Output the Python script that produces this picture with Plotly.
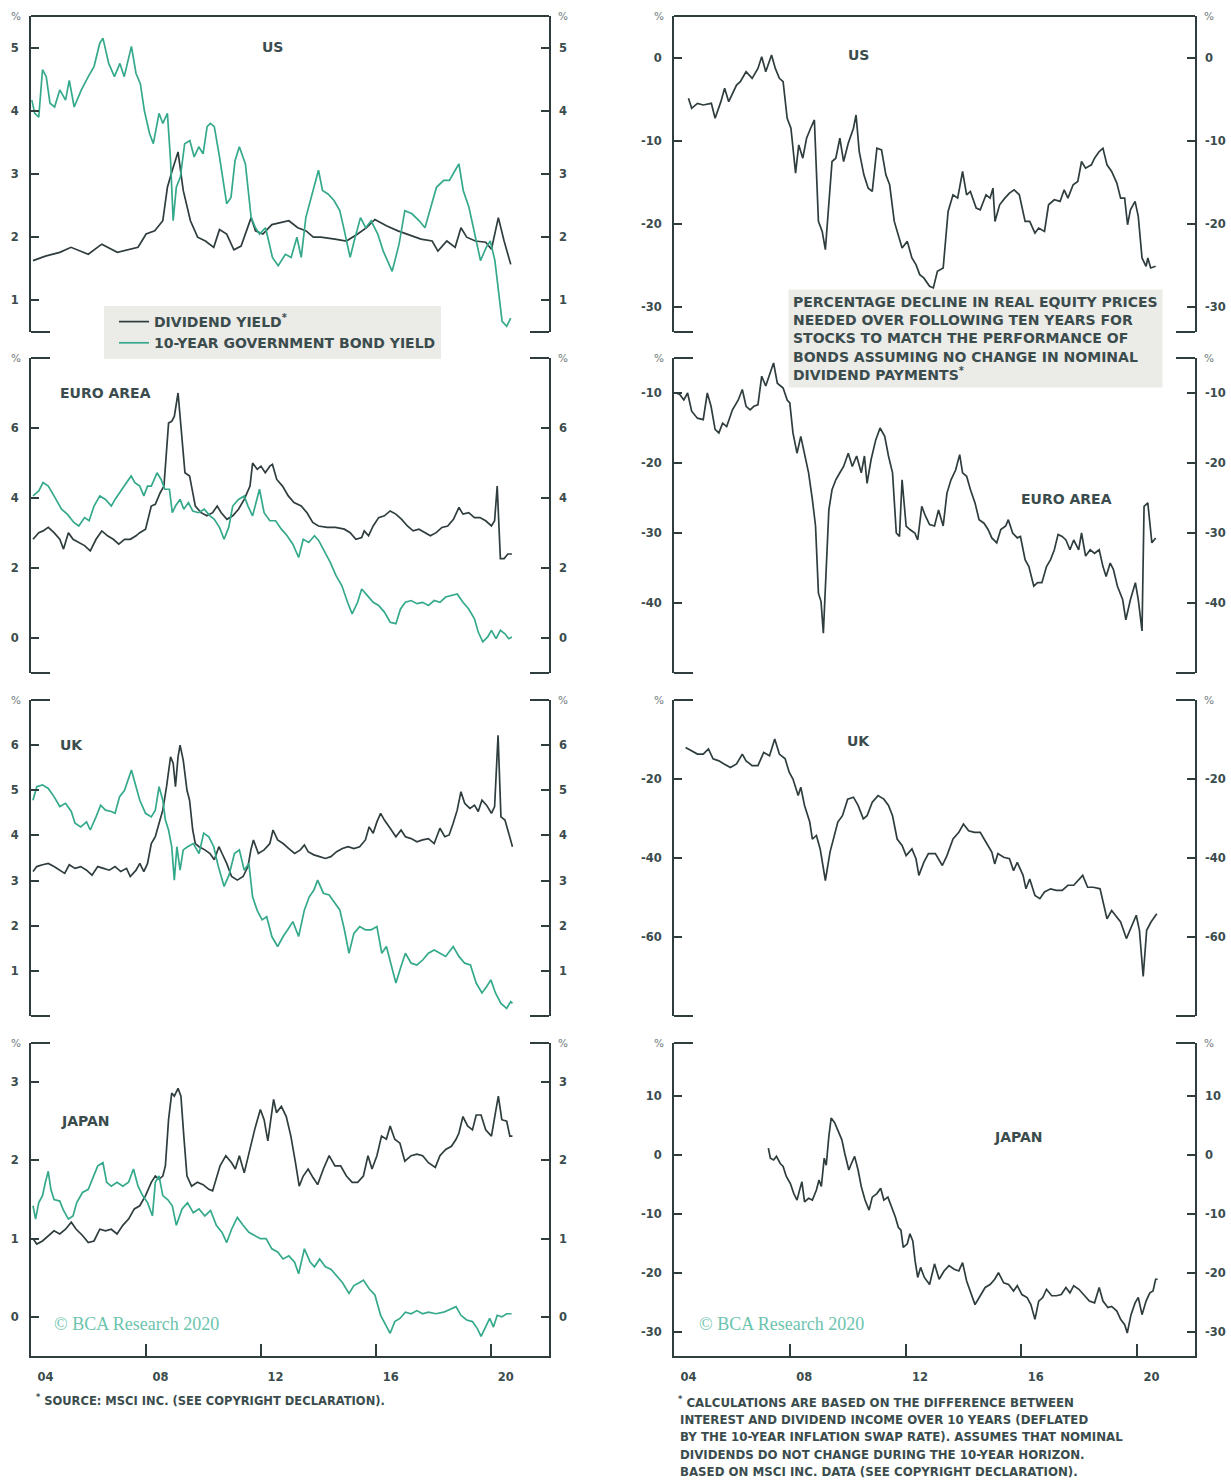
import plotly.graph_objects as go

W, H = 1231, 1480
DARK = "#2f3d3e"
TEAL = "#35a98b"
TXT = "#3b4c4d"
BOX = "#ebebe8"
FONT = "DejaVu Sans"

# ---------------- data (decimal year, value) ----------------
US_DIV = [(2004.07,1.63),(2004.5,1.70),(2005.0,1.76),(2005.39,1.84),(2005.99,1.73),(2006.46,1.89),(2007.0,1.76),
          (2007.49,1.81),(2007.72,1.84),(2008.0,2.05),(2008.3,2.10),(2008.58,2.26),(2008.74,2.79),(2008.91,3.06),
          (2009.11,3.35),(2009.29,2.74),(2009.54,2.26),(2009.79,2.0),(2010.06,1.94),(2010.35,1.84),(2010.55,2.12),
          (2010.8,2.05),(2011.05,1.80),(2011.3,1.86),(2011.65,2.31),(2011.8,2.10),(2012.06,2.05),(2012.37,2.2),
          (2012.67,2.23),(2012.96,2.26),(2013.27,2.15),(2013.56,2.10),(2013.81,2.0),(2014.07,2.0),(2014.56,1.97),
          (2014.96,1.94),(2015.35,2.05),(2015.66,2.15),(2015.95,2.28),(2016.35,2.18),(2016.75,2.1),(2017.04,2.05),
          (2017.55,1.97),(2017.94,1.94),(2018.14,1.78),(2018.45,1.94),(2018.74,1.84),(2018.94,2.15),(2019.14,2.0),
          (2019.44,1.94),(2019.8,1.92),(2020.0,1.81),(2020.24,2.31),(2020.44,1.94),(2020.67,1.57)]
US_BOND = [(2004.03,4.17),(2004.13,3.96),(2004.27,3.9),(2004.4,4.65),(2004.53,4.54),(2004.66,4.12),(2004.82,4.06),
           (2005.0,4.33),(2005.2,4.17),(2005.33,4.48),(2005.5,4.06),(2005.75,4.33),(2005.99,4.54),(2006.19,4.70),
           (2006.39,5.07),(2006.5,5.15),(2006.7,4.75),(2006.9,4.54),(2007.09,4.75),(2007.24,4.54),(2007.39,4.83),
           (2007.49,5.02),(2007.65,4.59),(2007.8,4.43),(2007.94,4.0),(2008.12,3.64),(2008.25,3.48),(2008.45,3.96),
           (2008.58,3.8),(2008.74,3.96),(2008.85,3.21),(2008.94,2.26),(2009.05,2.79),(2009.19,2.95),(2009.34,3.48),
           (2009.52,3.53),(2009.67,3.27),(2009.83,3.43),(2009.98,3.32),(2010.12,3.75),(2010.23,3.8),(2010.37,3.75),
           (2010.55,3.27),(2010.8,2.53),(2010.95,2.63),(2011.09,3.21),(2011.24,3.43),(2011.45,3.16),(2011.65,2.31),
           (2011.8,2.15),(2011.94,2.05),(2012.15,2.15),(2012.39,1.68),(2012.59,1.55),(2012.84,1.73),(2013.04,1.68),
           (2013.24,2.0),(2013.39,1.68),(2013.55,2.31),(2013.76,2.68),(2013.99,3.06),(2014.13,2.74),(2014.33,2.68),
           (2014.53,2.58),(2014.73,2.42),(2014.89,2.10),(2015.09,1.68),(2015.23,1.94),(2015.45,2.31),(2015.63,2.15),
           (2015.82,2.26),(2016.05,2.05),(2016.24,1.78),(2016.55,1.46),(2016.79,1.89),(2016.99,2.42),(2017.24,2.37),
           (2017.49,2.26),(2017.69,2.15),(2017.89,2.47),(2018.09,2.79),(2018.34,2.90),(2018.54,2.90),(2018.74,3.06),
           (2018.87,3.16),(2019.02,2.74),(2019.22,2.47),(2019.42,2.05),(2019.62,1.63),(2019.82,1.84),(2019.96,1.94),
           (2020.12,1.63),(2020.27,0.99),(2020.37,0.67),(2020.53,0.59),(2020.67,0.72)]
US_GAP = [(2004.5,-4.9),(2004.61,-6.1),(2004.81,-5.5),(2005.01,-5.7),(2005.29,-5.5),(2005.42,-7.3),(2005.62,-5.3),
          (2005.75,-3.7),(2005.89,-5.3),(2006.16,-3.3),(2006.29,-2.9),(2006.49,-1.7),(2006.7,-2.5),(2006.9,-1.3),
          (2007.03,0.1),(2007.17,-1.7),(2007.37,0.3),(2007.5,-1.3),(2007.64,-2.5),(2007.77,-2.9),(2007.91,-7.3),
          (2008.04,-8.5),(2008.2,-13.9),(2008.31,-10.5),(2008.45,-12.1),(2008.58,-9.7),(2008.72,-8.5),(2008.85,-7.5),
          (2008.99,-19.7),(2009.12,-20.9),(2009.23,-23.1),(2009.39,-14.9),(2009.46,-12.5),(2009.59,-12.1),
          (2009.73,-9.7),(2009.86,-12.5),(2010.02,-10.3),(2010.2,-8.5),(2010.29,-6.9),(2010.4,-11.3),(2010.56,-14.1),
          (2010.71,-15.7),(2010.85,-16.1),(2011.01,-10.9),(2011.17,-11.1),(2011.32,-14.1),(2011.45,-15.3),
          (2011.61,-19.7),(2011.75,-21.3),(2011.88,-22.9),(2012.06,-22.1),(2012.22,-24.1),(2012.36,-24.9),
          (2012.49,-26.1),(2012.63,-26.5),(2012.83,-27.5),(2012.96,-27.7),(2013.1,-25.7),(2013.3,-25.3),
          (2013.47,-18.5),(2013.64,-16.5),(2013.8,-16.9),(2013.97,-13.7),(2014.11,-16.5),(2014.24,-16.1),
          (2014.44,-18.1),(2014.58,-18.3),(2014.78,-16.5),(2014.92,-16.9),(2015.02,-15.7),(2015.09,-19.7),
          (2015.25,-17.7),(2015.43,-16.9),(2015.59,-16.3),(2015.75,-15.9),(2015.93,-16.5),(2016.13,-19.7),
          (2016.29,-19.7),(2016.47,-21.1),(2016.6,-20.5),(2016.8,-20.9),(2016.94,-17.7),(2017.14,-17.1),
          (2017.34,-17.3),(2017.48,-15.9),(2017.61,-16.9),(2017.79,-15.3),(2017.95,-14.9),(2018.08,-12.5),
          (2018.22,-13.3),(2018.42,-12.9),(2018.53,-12.1),(2018.69,-11.3),(2018.82,-10.9),(2018.96,-12.9),
          (2019.12,-13.7),(2019.3,-15.1),(2019.43,-16.9),(2019.57,-16.9),(2019.67,-20.1),(2019.77,-18.3),
          (2019.93,-17.3),(2020.04,-19.1),(2020.17,-24.1),(2020.31,-25.1),(2020.37,-24.1),(2020.47,-25.3),
          (2020.64,-25.1)]

EURO_DIV = [(2004.07,2.82),(2004.27,3.01),(2004.42,3.06),(2004.6,3.16),(2004.8,3.01),(2005.0,2.82),(2005.13,2.54),
            (2005.3,3.01),(2005.46,2.82),(2005.66,2.73),(2005.86,2.64),(2006.06,2.49),(2006.26,2.82),(2006.46,3.06),
            (2006.66,2.92),(2006.86,2.82),(2007.05,2.68),(2007.25,2.82),(2007.45,2.82),(2007.65,2.92),(2007.78,3.01),
            (2007.98,3.11),(2008.18,3.77),(2008.32,3.82),(2008.49,4.15),(2008.62,4.34),(2008.78,6.14),(2008.89,6.19),
            (2008.98,6.33),(2009.11,7.0),(2009.21,6.05),(2009.35,4.72),(2009.51,4.63),(2009.71,3.77),(2009.91,3.58),
            (2010.11,3.49),(2010.31,3.58),(2010.47,3.77),(2010.61,3.58),(2010.81,3.39),(2011.01,3.49),(2011.21,3.68),
            (2011.41,3.96),(2011.61,4.34),(2011.7,5.0),(2011.86,4.82),(2011.99,4.91),(2012.14,4.72),(2012.3,4.91),
            (2012.39,4.96),(2012.54,4.53),(2012.74,4.34),(2012.94,4.06),(2013.14,3.87),(2013.39,3.77),(2013.59,3.58),
            (2013.79,3.30),(2013.99,3.20),(2014.29,3.16),(2014.58,3.16),(2014.89,3.11),(2015.09,3.01),(2015.29,2.82),
            (2015.49,2.87),(2015.58,3.06),(2015.73,2.92),(2015.89,3.20),(2016.08,3.44),(2016.28,3.49),(2016.48,3.63),
            (2016.68,3.54),(2016.88,3.39),(2017.08,3.20),(2017.28,3.06),(2017.48,3.11),(2017.68,3.01),(2017.88,2.92),
            (2018.08,3.01),(2018.28,3.16),(2018.48,3.20),(2018.68,3.39),(2018.87,3.73),(2019.01,3.54),(2019.21,3.58),
            (2019.41,3.44),(2019.6,3.44),(2019.8,3.35),(2020.0,3.20),(2020.11,3.35),(2020.2,4.34),(2020.31,2.27),
            (2020.44,2.27),(2020.57,2.40),(2020.71,2.40)]
EURO_BOND = [(2004.07,4.06),(2004.27,4.2),(2004.42,4.44),(2004.6,4.34),(2004.8,4.06),(2005.06,3.68),(2005.26,3.54),
             (2005.49,3.30),(2005.66,3.20),(2005.86,3.44),(2006.02,3.35),(2006.19,3.77),(2006.39,4.06),(2006.59,3.96),
             (2006.79,3.77),(2006.92,3.96),(2007.12,4.2),(2007.32,4.44),(2007.48,4.63),(2007.61,4.44),(2007.78,4.34),
             (2007.92,4.06),(2008.05,4.34),(2008.18,4.34),(2008.38,4.72),(2008.52,4.53),(2008.65,4.25),(2008.81,4.25),
             (2008.91,3.58),(2009.02,3.77),(2009.18,3.96),(2009.31,3.68),(2009.47,3.87),(2009.62,3.63),(2009.82,3.58),
             (2010.02,3.68),(2010.22,3.49),(2010.37,3.39),(2010.55,3.16),(2010.71,2.82),(2010.87,3.16),(2011.01,3.77),
             (2011.21,3.96),(2011.41,4.06),(2011.54,3.77),(2011.7,3.49),(2011.86,3.96),(2011.94,4.25),(2012.1,3.58),
             (2012.3,3.35),(2012.5,3.35),(2012.7,3.11),(2012.9,2.92),(2013.1,2.68),(2013.3,2.30),(2013.46,2.82),
             (2013.65,2.73),(2013.85,2.92),(2014.0,2.78),(2014.2,2.45),(2014.4,2.16),(2014.6,1.78),(2014.8,1.50),
             (2015.0,1.02),(2015.16,0.69),(2015.35,1.02),(2015.49,1.40),(2015.69,1.21),(2015.89,1.02),(2016.08,0.93),
             (2016.28,0.74),(2016.48,0.45),(2016.68,0.41),(2016.84,0.83),(2017.01,1.02),(2017.21,1.07),(2017.41,0.98),
             (2017.61,1.02),(2017.81,0.93),(2018.01,1.07),(2018.21,1.02),(2018.41,1.17),(2018.61,1.21),(2018.81,1.26),
             (2019.01,1.02),(2019.21,0.83),(2019.41,0.55),(2019.54,0.17),(2019.7,-0.11),(2019.87,0.03),(2020.0,0.22),
             (2020.16,-0.02),(2020.31,0.22),(2020.47,0.12),(2020.6,-0.02),(2020.71,0.03)]
EURO_GAP = [(2004.07,-10),(2004.2,-10.2),(2004.34,-11),(2004.47,-10),(2004.61,-12.6),(2004.81,-13.6),(2005.01,-13.8),
            (2005.15,-10),(2005.28,-11.9),(2005.42,-15.2),(2005.55,-15.7),(2005.68,-14.3),(2005.82,-14.8),
            (2006.02,-12.4),(2006.22,-11),(2006.36,-9.5),(2006.49,-11.9),(2006.63,-12.4),(2006.76,-11.9),
            (2006.9,-11.7),(2007.03,-7.6),(2007.17,-9),(2007.3,-7.4),(2007.44,-5.7),(2007.57,-8.6),(2007.77,-9.3),
            (2007.91,-11),(2008.0,-11.4),(2008.11,-15.7),(2008.25,-18.6),(2008.38,-16.2),(2008.51,-18.6),
            (2008.65,-21.4),(2008.78,-25.2),(2008.89,-29),(2008.99,-38.6),(2009.08,-39.8),(2009.16,-44.3),
            (2009.26,-35.7),(2009.35,-26.7),(2009.46,-23.8),(2009.59,-22.4),(2009.73,-21.4),(2009.86,-20.5),
            (2010.02,-18.6),(2010.16,-20.5),(2010.31,-19),(2010.47,-21.4),(2010.58,-19),(2010.67,-22.9),
            (2010.81,-19.5),(2010.97,-16.7),(2011.12,-15),(2011.28,-16.2),(2011.41,-19),(2011.55,-21.4),
            (2011.68,-30),(2011.79,-30.5),(2011.88,-22.4),(2012.02,-29),(2012.15,-29.5),(2012.32,-30),(2012.42,-31),
            (2012.56,-26.2),(2012.69,-27.6),(2012.83,-28.8),(2013.0,-29),(2013.14,-26.7),(2013.3,-29),(2013.43,-24.3),
            (2013.57,-22.4),(2013.73,-21),(2013.87,-18.8),(2013.97,-21.4),(2014.11,-21.9),(2014.24,-23.8),
            (2014.4,-25.7),(2014.54,-28.1),(2014.71,-28.6),(2014.85,-29.5),(2014.98,-30.7),(2015.15,-31.4),
            (2015.29,-29.5),(2015.46,-29),(2015.55,-28.1),(2015.7,-30),(2015.86,-30.7),(2015.97,-30.5),
            (2016.13,-33.8),(2016.26,-34.8),(2016.43,-37.6),(2016.56,-37.1),(2016.71,-37.1),(2016.87,-34.8),
            (2017.01,-33.8),(2017.14,-32.4),(2017.27,-30.2),(2017.41,-30.5),(2017.54,-31),(2017.68,-32.4),
            (2017.81,-31),(2017.98,-32.4),(2018.08,-30),(2018.22,-33.3),(2018.38,-32.4),(2018.53,-32.9),
            (2018.69,-32.4),(2018.82,-34.8),(2018.93,-36.2),(2019.07,-34.3),(2019.18,-35.2),(2019.32,-37.6),
            (2019.5,-39.5),(2019.61,-42.4),(2019.77,-39.5),(2019.94,-37.1),(2020.04,-39.5),(2020.17,-44),
            (2020.24,-26.2),(2020.37,-25.7),(2020.51,-31.4),(2020.64,-30.7)]

UK_DIV = [(2004.07,3.20),(2004.2,3.31),(2004.4,3.35),(2004.6,3.38),(2004.8,3.31),(2005.0,3.23),(2005.17,3.16),
          (2005.33,3.35),(2005.53,3.27),(2005.73,3.31),(2005.93,3.23),(2006.12,3.12),(2006.32,3.31),(2006.52,3.27),
          (2006.72,3.23),(2006.92,3.31),(2007.12,3.20),(2007.32,3.27),(2007.45,3.09),(2007.65,3.23),(2007.78,3.38),
          (2007.92,3.20),(2008.05,3.38),(2008.18,3.82),(2008.32,3.97),(2008.45,4.27),(2008.58,4.56),(2008.71,5.08),
          (2008.85,5.74),(2008.94,5.6),(2009.02,5.08),(2009.11,5.74),(2009.18,6.0),(2009.29,5.67),(2009.42,5.0),
          (2009.51,4.78),(2009.62,4.12),(2009.71,3.82),(2009.84,3.75),(2010.04,3.68),(2010.22,3.60),(2010.37,3.46),
          (2010.53,3.75),(2010.64,3.60),(2010.8,3.38),(2010.97,3.09),(2011.17,3.01),(2011.37,3.09),(2011.54,3.31),
          (2011.64,3.68),(2011.73,3.90),(2011.9,3.60),(2012.1,3.68),(2012.3,3.82),(2012.41,4.12),(2012.57,3.90),
          (2012.76,3.82),(2012.96,3.71),(2013.16,3.60),(2013.36,3.68),(2013.5,3.79),(2013.63,3.64),(2013.83,3.57),
          (2014.03,3.53),(2014.23,3.49),(2014.42,3.53),(2014.62,3.64),(2014.82,3.71),(2015.02,3.75),(2015.22,3.71),
          (2015.42,3.75),(2015.62,3.90),(2015.75,4.19),(2015.89,4.05),(2016.02,4.30),(2016.15,4.49),(2016.28,4.34),
          (2016.48,4.16),(2016.68,3.97),(2016.86,4.12),(2017.01,3.97),(2017.21,3.93),(2017.41,3.86),(2017.61,3.90),
          (2017.81,3.93),(2018.01,3.82),(2018.21,4.16),(2018.38,3.97),(2018.53,4.01),(2018.67,4.27),(2018.81,4.56),
          (2018.94,4.97),(2019.07,4.71),(2019.25,4.60),(2019.41,4.67),(2019.54,4.53),(2019.67,4.78),(2019.83,4.67),
          (2020.0,4.49),(2020.11,4.64),(2020.23,6.22),(2020.33,4.41),(2020.47,4.34),(2020.6,4.05),(2020.73,3.75)]
UK_BOND = [(2004.07,4.78),(2004.2,5.08),(2004.4,5.12),(2004.6,5.04),(2004.8,4.86),(2005.0,4.64),(2005.2,4.71),
           (2005.4,4.53),(2005.53,4.27),(2005.73,4.19),(2005.93,4.30),(2006.06,4.12),(2006.26,4.41),(2006.42,4.67),
           (2006.59,4.56),(2006.79,4.53),(2006.92,4.49),(2007.08,4.86),(2007.25,5.0),(2007.39,5.26),(2007.49,5.45),
           (2007.65,5.08),(2007.78,4.78),(2007.98,4.49),(2008.18,4.41),(2008.32,4.56),(2008.45,5.08),(2008.58,4.78),
           (2008.67,4.34),(2008.78,4.12),(2008.89,3.75),(2008.98,3.01),(2009.07,3.75),(2009.18,3.23),(2009.29,3.68),
           (2009.44,3.75),(2009.64,3.82),(2009.84,3.60),(2010.0,4.05),(2010.18,3.97),(2010.35,3.75),(2010.51,3.31),
           (2010.71,2.87),(2010.88,3.12),(2011.07,3.60),(2011.24,3.68),(2011.41,3.23),(2011.57,3.38),(2011.7,2.64),
           (2011.86,2.34),(2012.03,2.13),(2012.19,2.20),(2012.37,1.76),(2012.57,1.54),(2012.76,1.76),(2012.92,1.91),
           (2013.1,2.09),(2013.3,1.76),(2013.5,2.35),(2013.67,2.64),(2013.83,2.79),(2013.96,3.01),(2014.16,2.72),
           (2014.36,2.68),(2014.56,2.50),(2014.73,2.35),(2014.89,1.91),(2015.05,1.39),(2015.22,1.83),(2015.42,1.98),
           (2015.62,1.91),(2015.82,1.91),(2016.02,1.98),(2016.19,1.39),(2016.35,1.54),(2016.55,1.02),(2016.68,0.73),
           (2016.86,1.10),(2017.01,1.39),(2017.21,1.17),(2017.41,1.13),(2017.61,1.24),(2017.81,1.39),(2018.01,1.46),
           (2018.21,1.39),(2018.41,1.32),(2018.67,1.54),(2018.87,1.32),(2019.07,1.17),(2019.27,1.13),(2019.47,0.73),
           (2019.67,0.51),(2019.83,0.65),(2019.98,0.80),(2020.14,0.51),(2020.33,0.28),(2020.53,0.17),(2020.67,0.32),
           (2020.73,0.28)]
UK_GAP = [(2004.4,-12.0),(2004.61,-12.8),(2004.81,-13.7),(2005.01,-13.7),(2005.19,-12.4),(2005.35,-14.9),
          (2005.55,-15.4),(2005.73,-16.2),(2005.95,-17.1),(2006.16,-16.2),(2006.36,-13.7),(2006.49,-15.4),
          (2006.7,-16.6),(2006.9,-16.6),(2007.1,-13.3),(2007.3,-14.1),(2007.48,-9.9),(2007.64,-13.7),(2007.84,-14.9),
          (2007.98,-18.3),(2008.11,-20.0),(2008.29,-24.2),(2008.38,-22.1),(2008.51,-26.7),(2008.69,-30.9),
          (2008.78,-35.2),(2008.92,-34.3),(2009.05,-37.7),(2009.23,-45.7),(2009.39,-38.5),(2009.53,-34.3),
          (2009.66,-30.9),(2009.82,-29.3),(2010.0,-25.1),(2010.2,-24.6),(2010.36,-26.7),(2010.54,-30.1),
          (2010.67,-29.3),(2010.85,-25.9),(2011.05,-24.2),(2011.25,-25.1),(2011.41,-26.7),(2011.55,-29.3),
          (2011.71,-35.2),(2011.88,-36.8),(2012.02,-39.4),(2012.22,-37.7),(2012.36,-40.2),(2012.46,-44.4),
          (2012.63,-41.1),(2012.79,-38.9),(2013.03,-38.9),(2013.27,-41.9),(2013.43,-39.4),(2013.64,-35.2),
          (2013.84,-33.5),(2014.0,-31.4),(2014.18,-33.1),(2014.38,-33.5),(2014.58,-33.5),(2014.78,-36.0),
          (2014.98,-38.5),(2015.08,-41.5),(2015.19,-38.9),(2015.39,-39.8),(2015.59,-40.2),(2015.73,-43.2),
          (2015.86,-41.1),(2016.06,-44.4),(2016.16,-47.8),(2016.29,-45.3),(2016.47,-49.5),(2016.64,-50.3),
          (2016.8,-48.6),(2017.01,-47.8),(2017.21,-48.2),(2017.41,-48.2),(2017.61,-46.9),(2017.81,-46.9),
          (2018.02,-45.3),(2018.12,-44.4),(2018.29,-47.4),(2018.49,-47.4),(2018.72,-47.8),(2018.82,-51.2),
          (2018.96,-55.4),(2019.12,-53.3),(2019.26,-54.5),(2019.43,-56.2),(2019.63,-60.4),(2019.81,-57.1),
          (2019.97,-54.5),(2020.08,-58.3),(2020.21,-70.0),(2020.33,-58.3),(2020.48,-56.2),(2020.68,-54.1)]

JAPAN_DIV = [(2004.07,1.0),(2004.2,0.93),(2004.4,0.97),(2004.6,1.04),(2004.8,1.10),(2005.0,1.06),(2005.2,1.12),
             (2005.4,1.21),(2005.57,1.12),(2005.79,1.04),(2005.99,0.95),(2006.19,0.97),(2006.39,1.12),(2006.59,1.10),
             (2006.79,1.12),(2006.99,1.06),(2007.19,1.17),(2007.39,1.25),(2007.59,1.38),(2007.78,1.42),(2007.98,1.55),
             (2008.18,1.72),(2008.32,1.80),(2008.45,1.76),(2008.58,1.80),(2008.67,1.93),(2008.78,2.52),(2008.89,2.86),
             (2008.98,2.82),(2009.11,2.92),(2009.21,2.82),(2009.31,2.31),(2009.42,1.80),(2009.58,1.67),(2009.78,1.72),
             (2009.98,1.69),(2010.18,1.63),(2010.31,1.61),(2010.44,1.76),(2010.57,1.93),(2010.77,2.06),(2010.97,1.97),
             (2011.1,1.89),(2011.24,2.06),(2011.41,1.84),(2011.57,2.10),(2011.77,2.39),(2011.97,2.65),(2012.1,2.52),
             (2012.23,2.25),(2012.34,2.56),(2012.43,2.78),(2012.53,2.61),(2012.7,2.69),(2012.87,2.56),(2013.03,2.31),
             (2013.19,1.97),(2013.32,1.67),(2013.46,1.80),(2013.63,1.89),(2013.8,1.78),(2013.96,1.69),(2014.16,1.89),
             (2014.36,2.06),(2014.56,1.93),(2014.76,1.93),(2014.96,1.80),(2015.16,1.72),(2015.35,1.72),(2015.55,1.80),
             (2015.71,2.06),(2015.85,1.89),(2016.02,2.06),(2016.18,2.31),(2016.35,2.27),(2016.48,2.44),(2016.64,2.27),
             (2016.82,2.22),(2016.99,1.99),(2017.21,2.06),(2017.41,2.08),(2017.61,2.06),(2017.81,1.97),(2018.05,1.91),
             (2018.21,2.06),(2018.41,2.14),(2018.61,2.18),(2018.77,2.27),(2018.87,2.35),(2019.01,2.56),(2019.17,2.44),
             (2019.34,2.39),(2019.47,2.58),(2019.64,2.58),(2019.8,2.39),(2020.0,2.31),(2020.14,2.61),(2020.24,2.82),
             (2020.36,2.52),(2020.53,2.50),(2020.64,2.31),(2020.73,2.31)]
JAPAN_BOND = [(2004.07,1.42),(2004.16,1.25),(2004.27,1.46),(2004.4,1.55),(2004.5,1.72),(2004.6,1.86),(2004.69,1.63),
              (2004.8,1.50),(2005.0,1.48),(2005.13,1.36),(2005.3,1.25),(2005.46,1.29),(2005.59,1.46),(2005.79,1.59),
              (2005.99,1.63),(2006.19,1.80),(2006.32,1.93),(2006.5,1.97),(2006.63,1.72),(2006.79,1.67),(2006.99,1.72),
              (2007.19,1.67),(2007.39,1.72),(2007.56,1.89),(2007.72,1.67),(2007.88,1.55),(2008.05,1.46),(2008.22,1.29),
              (2008.32,1.72),(2008.45,1.80),(2008.58,1.55),(2008.75,1.50),(2008.91,1.42),(2009.05,1.17),(2009.25,1.38),
              (2009.44,1.46),(2009.64,1.33),(2009.84,1.38),(2010.04,1.29),(2010.24,1.36),(2010.44,1.17),(2010.64,1.08),
              (2010.8,0.95),(2010.97,1.12),(2011.17,1.27),(2011.37,1.17),(2011.57,1.08),(2011.77,1.04),(2011.97,1.0),
              (2012.17,1.0),(2012.37,0.87),(2012.57,0.83),(2012.76,0.74),(2012.96,0.78),(2013.16,0.70),(2013.3,0.55),
              (2013.5,0.87),(2013.7,0.70),(2013.85,0.64),(2014.03,0.74),(2014.23,0.64),(2014.42,0.61),(2014.62,0.53),
              (2014.82,0.44),(2015.05,0.30),(2015.22,0.40),(2015.42,0.44),(2015.55,0.47),(2015.75,0.36),(2015.95,0.28),
              (2016.15,0.02),(2016.35,-0.11),(2016.48,-0.21),(2016.64,-0.06),(2016.82,-0.02),(2017.01,0.06),
              (2017.21,0.04),(2017.41,0.08),(2017.61,0.04),(2017.81,0.06),(2018.07,0.04),(2018.34,0.06),(2018.61,0.11),
              (2018.77,0.13),(2018.94,0.02),(2019.14,-0.04),(2019.34,-0.06),(2019.51,-0.15),(2019.64,-0.25),
              (2019.8,-0.13),(2019.94,-0.02),(2020.07,-0.13),(2020.2,0.02),(2020.36,0.0),(2020.53,0.04),(2020.7,0.04)]
JAPAN_GAP = [(2007.26,1.2),(2007.33,-0.5),(2007.44,-0.8),(2007.54,-0.2),(2007.67,-1.4),(2007.77,-1.9),(2007.88,-3.6),
             (2008.02,-4.8),(2008.14,-6.5),(2008.25,-7.6),(2008.34,-5.9),(2008.42,-4.5),(2008.51,-7.9),(2008.65,-7.3),
             (2008.78,-7.6),(2008.92,-5.9),(2009.01,-4.2),(2009.09,-5.3),(2009.19,-0.5),(2009.26,-1.7),(2009.35,3.2),
             (2009.43,6.3),(2009.55,5.5),(2009.69,3.8),(2009.8,2.6),(2009.9,0.3),(2010.04,-2.5),(2010.13,-1.4),
             (2010.24,-0.2),(2010.36,-2.5),(2010.47,-5.3),(2010.6,-7.6),(2010.74,-9.3),(2010.85,-7.1),(2011.01,-6.5),
             (2011.14,-5.6),(2011.25,-7.6),(2011.39,-7.1),(2011.52,-8.8),(2011.65,-10.5),(2011.75,-12.2),
             (2011.84,-12.7),(2011.92,-15.6),(2012.06,-15.0),(2012.15,-13.3),(2012.25,-14.5),(2012.33,-17.9),
             (2012.42,-20.7),(2012.52,-19.0),(2012.65,-20.7),(2012.83,-21.9),(2013.0,-18.4),(2013.16,-21.0),
             (2013.33,-19.6),(2013.5,-18.7),(2013.68,-19.3),(2013.84,-19.6),(2013.97,-18.2),(2014.11,-21.3),
             (2014.24,-23.0),(2014.4,-25.3),(2014.58,-23.8),(2014.75,-22.4),(2014.92,-21.9),(2015.08,-21.0),
             (2015.21,-19.9),(2015.39,-21.6),(2015.56,-21.9),(2015.73,-23.0),(2015.86,-22.1),(2016.02,-23.6),
             (2016.2,-24.1),(2016.33,-25.3),(2016.47,-27.8),(2016.6,-24.7),(2016.74,-24.1),(2016.87,-22.7),
             (2017.05,-23.8),(2017.21,-23.8),(2017.38,-23.6),(2017.54,-22.4),(2017.68,-23.3),(2017.81,-22.1),
             (2017.99,-22.7),(2018.15,-23.6),(2018.35,-24.7),(2018.53,-25.0),(2018.69,-22.4),(2018.82,-24.7),
             (2018.99,-25.8),(2019.12,-25.6),(2019.3,-26.4),(2019.43,-27.8),(2019.57,-28.7),(2019.66,-30.1),
             (2019.79,-27.0),(2019.93,-25.0),(2020.04,-24.1),(2020.17,-27.0),(2020.31,-24.7),(2020.44,-23.3),
             (2020.55,-23.0),(2020.64,-21.0),(2020.71,-21.0)]

X_RANGE = [2004, 2022]
YEAR_TICKS = [2008, 2012, 2016, 2020]
YEAR_LABEL_POS = [2004.5, 2008.5, 2012.5, 2016.5, 2020.5]
YEAR_LABELS = ["04", "08", "12", "16", "20"]

DIV_NAME = "DIVIDEND YIELD<sup>*</sup>"
BOND_NAME = "10-YEAR GOVERNMENT BOND YIELD"

# page geometry (pixels)
COLS = [(31, 549), (674, 1195)]
ROWS = [(16, 332), (358, 673), (700, 1016), (1043, 1356)]

def px(x):
    return x / W

def py(y):
    return 1 - y / H

panels = [
    dict(row=0, col=0, series=[US_DIV, US_BOND], yr=[0.5, 5.5], yt=[1, 2, 3, 4, 5], title="US", t_xy=(272, 47)),
    dict(row=0, col=1, series=[US_GAP], yr=[-33, 5], yt=[-30, -20, -10, 0], title="US", t_xy=(858, 55)),
    dict(row=1, col=0, series=[EURO_DIV, EURO_BOND], yr=[-1, 8], yt=[0, 2, 4, 6], title="EURO AREA", t_xy=(105, 393)),
    dict(row=1, col=1, series=[EURO_GAP], yr=[-50, -5], yt=[-40, -30, -20, -10], title="EURO AREA", t_xy=(1066, 499)),
    dict(row=2, col=0, series=[UK_DIV, UK_BOND], yr=[0, 7], yt=[1, 2, 3, 4, 5, 6], title="UK", t_xy=(71, 745)),
    dict(row=2, col=1, series=[UK_GAP], yr=[-80, 0], yt=[-60, -40, -20], title="UK", t_xy=(858, 741)),
    dict(row=3, col=0, series=[JAPAN_DIV, JAPAN_BOND], yr=[-0.5, 3.5], yt=[0, 1, 2, 3], title="JAPAN", t_xy=(85, 1121)),
    dict(row=3, col=1, series=[JAPAN_GAP], yr=[-34, 19], yt=[-30, -20, -10, 0, 10], title="JAPAN", t_xy=(1018, 1137)),
]

tickfont = dict(family=FONT, size=11.5, color=TXT, weight="bold")
labfont = dict(family=FONT, size=14, color=TXT, weight="bold")
fig = go.Figure()
layout = {}
shapes = []
annotations = []
CAP = 19


def note(x, y, text, font, xanchor="center", **kw):
    return dict(x=x, y=y, text=text, showarrow=False, font=font, xanchor=xanchor, yanchor="middle", **kw)


for k, p in enumerate(panels, start=1):
    c0, c1 = COLS[p["col"]]
    top, bot = ROWS[p["row"]]
    sfx = "" if k == 1 else str(k)
    xref = "x" + sfx
    yref = "y" + sfx

    for i, s in enumerate(p["series"]):
        xs, ys = zip(*s)
        is_bond = i == 1
        fig.add_trace(go.Scatter(
            x=xs, y=ys, mode="lines", xaxis=xref, yaxis=yref,
            line=dict(color=TEAL if is_bond else DARK, width=1.7),
            name=BOND_NAME if is_bond else DIV_NAME,
            showlegend=(k == 1), hoverinfo="skip"))

    xa = dict(domain=[px(c0), px(c1)], range=X_RANGE, anchor=yref, showgrid=False, zeroline=False,
              fixedrange=True)
    if p["row"] == 3:
        xa.update(showline=True, linecolor=DARK, linewidth=2, tickmode="array",
                  tickvals=YEAR_LABEL_POS, ticktext=YEAR_LABELS, ticks="", tickfont=tickfont,
                  ticklabelstandoff=9,
                  minor=dict(tickmode="array", tickvals=YEAR_TICKS, ticks="inside", ticklen=12,
                             tickwidth=2, tickcolor=DARK))
    else:
        xa.update(visible=False)
    layout["xaxis" + sfx] = xa

    # left axis; line and ticks mirrored onto the right edge
    labels = [str(v) for v in p["yt"]]
    layout["yaxis" + sfx] = dict(
        domain=[py(bot), py(top)], range=p["yr"], anchor=xref, side="left",
        tickmode="array", tickvals=p["yt"], ticktext=labels,
        showline=True, mirror="ticks", linecolor=DARK, linewidth=2,
        ticks="inside", ticklen=8, tickwidth=2, tickcolor=DARK,
        showgrid=False, zeroline=False, tickfont=tickfont, ticklabelstandoff=8, fixedrange=True)

    # right-hand tick labels
    for v, lab in zip(p["yt"], labels):
        annotations.append(note(px(c1 + 8), v, lab, tickfont, xanchor="left", xref="paper", yref=yref))

    # end caps of the axis brackets
    seg = dict(type="line", xref="paper", yref="paper", line=dict(color=DARK, width=2))
    if p["row"] == 0:
        shapes.append(dict(seg, x0=px(c0), x1=px(c1), y0=py(top), y1=py(top)))
    else:
        shapes.append(dict(seg, x0=px(c0), x1=px(c0 + CAP), y0=py(top), y1=py(top)))
        shapes.append(dict(seg, x0=px(c1 - CAP), x1=px(c1), y0=py(top), y1=py(top)))
    if p["row"] != 3:
        shapes.append(dict(seg, x0=px(c0), x1=px(c0 + CAP), y0=py(bot), y1=py(bot)))
        shapes.append(dict(seg, x0=px(c1 - CAP), x1=px(c1), y0=py(bot), y1=py(bot)))

    # % unit labels
    for xx in (c0 - 15, c1 + 14):
        annotations.append(note(px(xx), py(top), "%", dict(family=FONT, size=10.5, color="#6f7b7b"),
                                xref="paper", yref="paper"))
    # panel title
    tx, ty = p["t_xy"]
    annotations.append(note(px(tx), py(ty), p["title"], labfont, xref="paper", yref="paper"))

# watermarks
for wx in (52, 697):
    annotations.append(note(px(wx), py(1324), "\u00a9 BCA Research 2020",
                            dict(family="Liberation Serif", size=18, color="#6cc4ae"),
                            xanchor="left", xref="paper", yref="paper"))

# grey box describing the right column
box_lines = ["PERCENTAGE DECLINE IN REAL EQUITY PRICES", "NEEDED OVER FOLLOWING TEN YEARS FOR",
             "STOCKS TO MATCH THE PERFORMANCE OF", "BONDS ASSUMING NO CHANGE IN NOMINAL",
             "DIVIDEND PAYMENTS<sup>*</sup>"]
annotations.append(dict(x=px(788), y=py(289), xref="paper", yref="paper", xanchor="left", yanchor="top",
                        align="left", text="<br>".join(box_lines), showarrow=False, bgcolor=BOX,
                        borderpad=4, font=labfont))

# footnotes
annotations.append(note(px(34), py(1400), "<sup>*</sup> SOURCE: MSCI INC. (SEE COPYRIGHT DECLARATION).",
                        dict(family=FONT, size=11.5, color=TXT, weight="bold"),
                        xanchor="left", xref="paper", yref="paper"))
note_lines = ["<sup>*</sup> CALCULATIONS ARE BASED ON THE DIFFERENCE BETWEEN",
              "INTEREST AND DIVIDEND INCOME OVER 10 YEARS (DEFLATED",
              "BY THE 10-YEAR INFLATION SWAP RATE). ASSUMES THAT NOMINAL",
              "DIVIDENDS DO NOT CHANGE DURING THE 10-YEAR HORIZON.",
              "BASED ON MSCI INC. DATA (SEE COPYRIGHT DECLARATION)."]
for i, line in enumerate(note_lines):
    annotations.append(note(px(676 if i == 0 else 678), py(1402 + i * 17.5), line,
                            dict(family=FONT, size=11.8, color=TXT, weight="bold"),
                            xanchor="left", xref="paper", yref="paper"))

fig.update_layout(
    width=W, height=H, margin=dict(l=0, r=0, t=0, b=0, pad=0),
    paper_bgcolor="white", plot_bgcolor="rgba(0,0,0,0)",
    font=dict(family=FONT, color=TXT),
    shapes=shapes, annotations=annotations,
    legend=dict(x=px(104), y=py(306), xanchor="left", yanchor="top", bgcolor=BOX,
                font=labfont, tracegroupgap=0, itemwidth=30, borderwidth=0, indentation=10),
    **layout,
)

# drop the default 8px body margin so the page coordinates line up with the figure
fig.write_html("out.html", config={"displayModeBar": False},
               post_script="document.body.style.margin='0px';")
